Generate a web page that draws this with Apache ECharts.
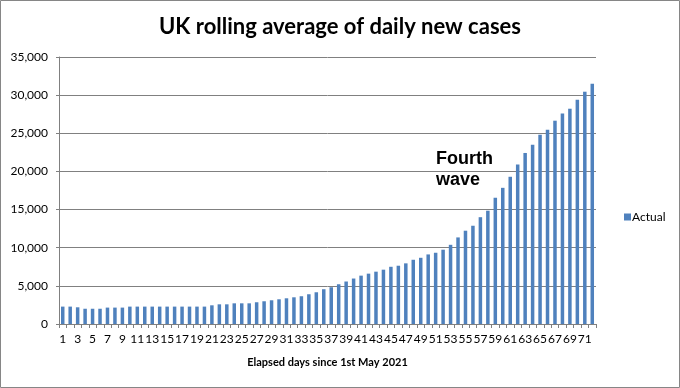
<!DOCTYPE html>
<html>
<head>
<meta charset="utf-8">
<script src="https://cdn.jsdelivr.net/npm/echarts@6/dist/echarts.min.js"></script>
<style>html,body{margin:0;padding:0;background:#fff}#c{width:680px;height:388px}</style>
</head>
<body>
<div id="c"></div>
<script>
const days = [];
for (let i = 1; i <= 72; i++) days.push(String(i));
const actual = [
  2280, 2280, 2190, 2000, 2000, 2000, 2150, 2150, 2150, 2280,
  2280, 2280, 2280, 2280, 2280, 2280, 2280, 2280, 2280, 2280,
  2450, 2580, 2580, 2710, 2710, 2710, 2850, 2980, 3110, 3240,
  3370, 3500, 3640, 3900, 4160, 4560, 4820, 5210, 5570, 5960,
  6340, 6600, 6860, 7120, 7500, 7640, 7950, 8420, 8680, 9120,
  9340, 9740, 10380, 11350, 12230, 12880, 14000, 14850, 16550, 17850,
  19300, 20900, 22420, 23500, 24810, 25470, 26650, 27610, 28220, 29400,
  30450, 31500
];
const yTicks = [0, 5000, 10000, 15000, 20000, 25000, 30000, 35000];

const chart = echarts.init(document.getElementById('c'));
chart.setOption({
  animation: false,
  title: {
    text: 'UK rolling average of daily new cases',
    left: 'center', top: 11,
    textStyle: { fontFamily: 'Lato', fontWeight: 'bold', fontSize: 22, color: '#000' }
  },
  legend: {
    data: ['Actual'], orient: 'vertical', left: 619, top: 206,
    icon: 'rect', itemWidth: 7, itemHeight: 7, itemGap: 4,
    textStyle: { fontFamily: 'Lato', fontSize: 12, color: '#000', padding: [0, 0, 0, -4] }
  },
  grid: { left: 59, right: 84, top: 57, bottom: 64 },
  xAxis: {
    type: 'category', data: days,
    name: 'Elapsed days since 1st May 2021', nameLocation: 'middle', nameGap: 33,
    nameTextStyle: { fontFamily: 'Lato', fontWeight: 'bold', fontSize: 11, color: '#000' },
    axisLine: { lineStyle: { color: '#808080' } },
    axisTick: { show: true, length: 4, interval: 0, lineStyle: { color: '#808080' } },
    axisLabel: { interval: 1, margin: 9, fontFamily: 'Lato', fontSize: 12, color: '#000' }
  },
  yAxis: {
    type: 'value', min: yTicks[0], max: yTicks[yTicks.length - 1], interval: 5000,
    axisLine: { show: true, lineStyle: { color: '#808080' } },
    axisTick: { show: true, length: 3, lineStyle: { color: '#808080' } },
    splitLine: { lineStyle: { color: '#808080' } },
    axisLabel: {
      margin: 11, fontFamily: 'Lato', fontSize: 12, color: '#000',
      formatter: v => v.toLocaleString('en-US')
    }
  },
  series: [{
    name: 'Actual', type: 'bar', data: actual, barWidth: 3.5,
    itemStyle: { color: '#4F81BD' }
  }],
  graphic: [
    { type: 'rect', shape: { x: 0.5, y: 0.5, width: 679, height: 387 },
      style: { fill: 'none', stroke: '#868686', lineWidth: 1 }, silent: true },
    { type: 'text', left: 436, top: 149,
      style: { text: 'Fourth\nwave', fontFamily: 'Liberation Sans', fontWeight: 'bold', fontSize: 18, lineHeight: 21, fill: '#000' } }
  ]
});
</script>
</body>
</html>
